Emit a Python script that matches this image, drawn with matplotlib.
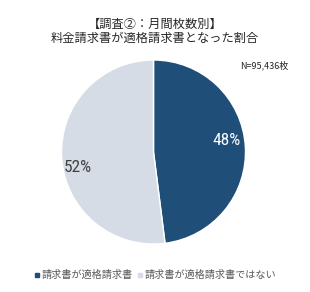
import matplotlib
matplotlib.use("Agg")
import matplotlib.pyplot as plt
from matplotlib.lines import Line2D

plt.rcParams['font.family'] = ['Noto Sans CJK JP', 'DejaVu Sans']

labels = ["請求書が適格請求書", "請求書が適格請求書ではない"]
values = [48, 52]
colors = ["#1F4E79", "#D6DCE5"]
title_lines = ["【調査②：月間枚数別】", "料金請求書が適格請求書となった割合"]
note = "N=95,436枚"

W, H = 310, 292
fig = plt.figure(figsize=(W / 100, H / 100), dpi=100)
fig.patch.set_facecolor("white")

cx, cy, r = 153.5, 152, 92
ax = fig.add_axes([(cx - r) / W, (H - cy - r) / H, 2 * r / W, 2 * r / H])
wedges, texts, autotexts = ax.pie(
    values, colors=colors, startangle=90, counterclock=False,
    autopct=lambda p: f"{p:.0f}%", pctdistance=0.8,
    wedgeprops=dict(edgecolor="white", linewidth=1.0),
)
ax.set_xlim(-1, 1)
ax.set_ylim(-1, 1)
pct_colors = ["white", "#404040"]
nudges = [(0.0, 0.08), (-0.02, -0.12)]
for t, c, (dx, dy) in zip(autotexts, pct_colors, nudges):
    t.set_color(c)
    t.set_fontsize(12.5)
    t.set_family(["Roboto Condensed", "Archivo Narrow", "PT Sans Narrow", "DejaVu Sans"])
    x, y = t.get_position()
    t.set_position((x + dx, y + dy))
ax.set_aspect("equal")
ax.axis("off")

fig.text(155 / W, 1 - 24 / H, title_lines[0], ha="center", va="center",
         fontsize=8.8, color="#262626")
fig.text(155 / W, 1 - 38 / H, title_lines[1], ha="center", va="center",
         fontsize=8.8, color="#262626")
fig.text(264 / W, 1 - 65 / H, note, ha="center", va="center",
         fontsize=6.5, color="#262626")

handles = [Line2D([0], [0], marker="s", linestyle="none", markersize=3.5,
                  markerfacecolor=c, markeredgecolor=c) for c in colors]
fig.legend(handles, labels, loc="center", bbox_to_anchor=(155 / W, 1 - 275 / H),
           ncol=2, frameon=False, fontsize=7.3, handlelength=0.6,
           handletextpad=0.2, columnspacing=0.4, labelcolor="#595959",
           borderpad=0, borderaxespad=0)

fig.savefig("out.png", dpi=100)
